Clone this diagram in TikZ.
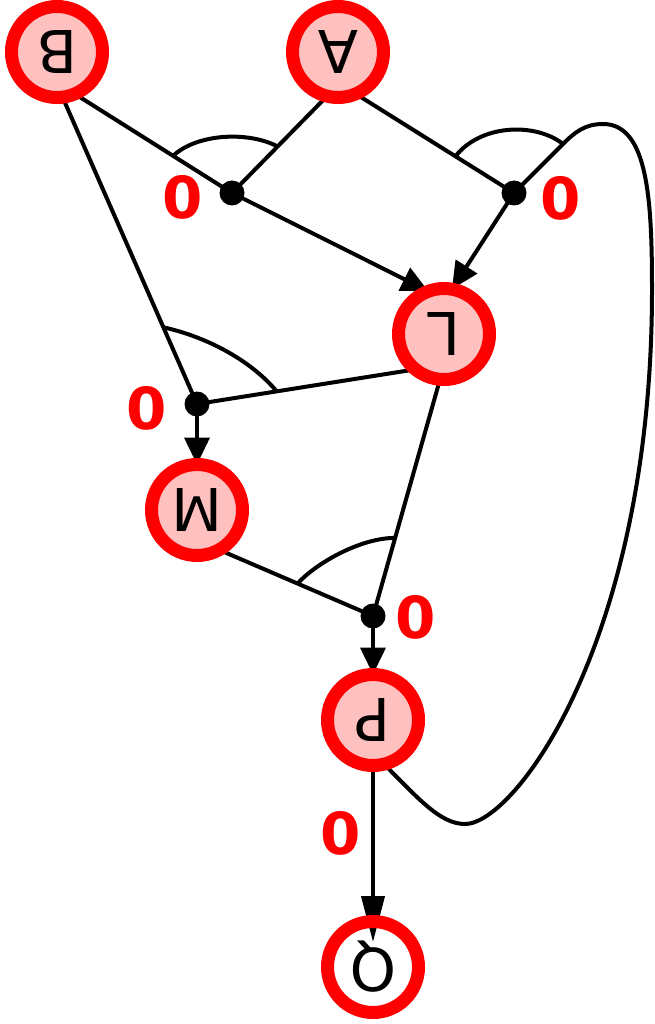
\documentclass[tikz,border=0pt]{standalone}
\usepackage{fontspec}
\setmainfont{DejaVu Sans}
\usetikzlibrary{arrows.meta,calc}
\pgfdeclarelayer{bg}
\pgfsetlayers{bg,main}
\definecolor{nodepink}{RGB}{255,192,192}
\definecolor{ringred}{RGB}{255,0,0}
\begin{document}
\begin{tikzpicture}[x=1pt,y=-1pt,
  state/.style={circle, draw=ringred, line width=13pt, fill=nodepink,
    minimum size=91pt, inner sep=0pt, outer sep=0pt, font=\fontsize{59}{59}\selectfont},
  finalstate/.style={state, fill=none},
  junc/.style={circle, fill=black, minimum size=25pt, inner sep=0pt},
  zlbl/.style={text=ringred, inner sep=0pt, font=\fontsize{58}{58}\selectfont\bfseries},
  conn/.style={line width=4pt},
  arr/.style={conn, -{Triangle[length=27pt,width=25pt]}},
  longarr/.style={conn, -{Triangle[length=46pt,width=23pt]}},
]
\useasboundingbox (0,0) rectangle (655,1024);
% nodes
\node[state] (B) at (57,52) {\rotatebox{180}{B}};
\node[state] (A) at (338,52) {\rotatebox{180}{A}};
\node[state] (L) at (444,334) {\rotatebox{180}{L}};
\node[state] (M) at (197,510) {\rotatebox{180}{M}};
\node[state] (P) at (373,720) {\rotatebox{180}{P}};
\node[finalstate] (Q) at (373,967) {\rotatebox{180}{Q}};
\node[junc] (J1) at (232,193) {};
\node[junc] (J2) at (514,193) {};
\node[junc] (J3) at (197,404) {};
\node[junc] (J4) at (373,616) {};
% labels
\node[zlbl] (z1) at (183,197) {0};
\node[zlbl] (z2) at (561,198) {0};
\node[zlbl] (z3) at (147,408) {0};
\node[zlbl] (z4) at (416,617) {0};
\node[zlbl] (z5) at (341,833) {0};
\coordinate (k) at (563,144);
\coordinate (Qtip) at ($(Q.center)+(0,-25)$);
\begin{pgfonlayer}{bg}
\fill[white] (0,0) rectangle (655,1024);
\draw[conn] (B.-67) -- (J1.center);
\draw[conn] (A.-104) -- (J1.center);
\draw[arr] (J1.center) -- (L.110);
\draw[conn] (A.-67) -- (J2.center);
\draw[arr] (J2.center) -- (L.80);
\draw[conn] (B.-83) -- (J3.center);
\draw[conn] (L.-129) -- (J3.center);
\draw[arr] (J3.center) -- (M.90);
\draw[conn] (M.-61) -- (J4.center);
\draw[conn] (L.-95) -- (J4.center);
\draw[arr] (J4.center) -- (P.90);
\draw[longarr] (P.-90) -- (Qtip);
% feedback curve from P to J2
\draw[conn] (P.-76) .. controls (418,798) and (440,824) .. (465,824)
  .. controls (515,824) and (652,640) .. (652,290)
  .. controls (652,200) and (648,124) .. (603,124)
  .. controls (585,124) and (575,132) .. (k) -- (J2.center);
% and-arcs
\coordinate (a1) at ($(B.-67)!0.625!(J1.center)$);
\coordinate (a2) at ($(A.-104)!0.52!(J1.center)$);
\draw[conn] (a1) .. controls +(25,-23) and +(-28,-15) .. (a2);
\coordinate (b1) at ($(A.-67)!0.63!(J2.center)$);
\draw[conn] (b1) .. controls +(25,-32) and +(-28,-22) .. (k);
\coordinate (c1) at ($(B.-83)!0.75!(J3.center)$);
\coordinate (c2) at ($(L.-129)!0.635!(J3.center)$);
\draw[conn] (c1) .. controls +(45,10) and +(-25,-30) .. (c2);
\coordinate (d1) at ($(M.-61)!0.51!(J4.center)$);
\coordinate (d2) at ($(L.-95)!0.67!(J4.center)$);
\draw[conn] (d1) .. controls +(18,-20) and +(-35,0) .. (d2);
\end{pgfonlayer}
\end{tikzpicture}
\end{document}
